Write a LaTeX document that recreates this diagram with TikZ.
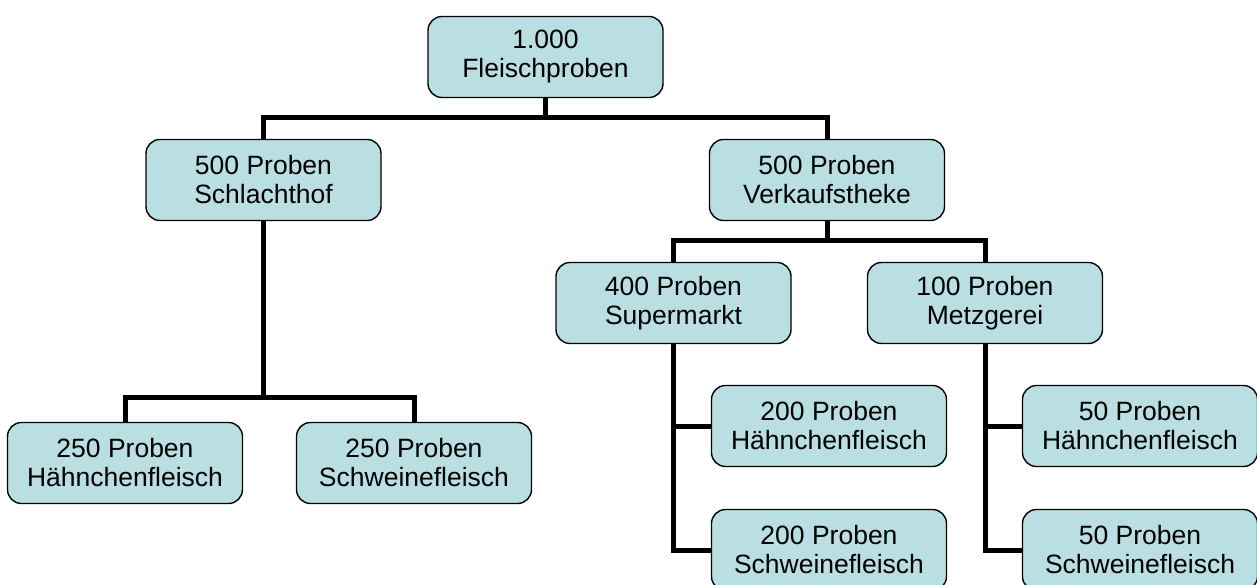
\documentclass[tikz,border=0pt]{standalone}
\usepackage{fontspec}
\setmainfont{Liberation Sans}
\definecolor{boxfill}{RGB}{185,223,227}
\tikzset{
  orgbox/.style={draw=black, line width=1.4pt, fill=boxfill, rounded corners=14pt,
    minimum width=235pt, minimum height=81pt, align=center, inner sep=0pt,
    font=\fontsize{26.5}{29}\selectfont},
  conn/.style={draw=black, line width=5pt}
}
\begin{document}
\begin{tikzpicture}[x=1pt,y=-1pt]
\useasboundingbox (0,0) rectangle (1257,585);
\fill[white] (0,0) rectangle (1257,585);
% nodes
\node[orgbox] (root) at (545.5,57) {1.000\\Fleischproben};
\node[orgbox] (sch) at (263.5,180) {500 Proben\\Schlachthof};
\node[orgbox] (ver) at (827,180) {500 Proben\\Verkaufstheke};
\node[orgbox] (lh) at (125,463) {250 Proben\\Hähnchenfleisch};
\node[orgbox] (ls) at (414,463) {250 Proben\\Schweinefleisch};
\node[orgbox] (sup) at (673.5,303) {400 Proben\\Supermarkt};
\node[orgbox] (met) at (985,303) {100 Proben\\Metzgerei};
\node[orgbox] (suph) at (829,426) {200 Proben\\Hähnchenfleisch};
\node[orgbox] (sups) at (829,550) {200 Proben\\Schweinefleisch};
\node[orgbox] (meth) at (1140,426) {50 Proben\\Hähnchenfleisch};
\node[orgbox] (mets) at (1140,550) {50 Proben\\Schweinefleisch};
% bar coordinates
\coordinate (bar1) at (0,118);
\coordinate (bar2) at (0,397);
\coordinate (bar3) at (0,241);
% connectors
\draw[conn] (root.south) -- (root.south |- bar1);
\draw[conn] (sch.north) |- (bar1 -| ver.north) -- (ver.north);
\draw[conn] (sch.south) -- (sch.south |- bar2);
\draw[conn] (lh.north) |- (bar2 -| ls.north) -- (ls.north);
\draw[conn] (ver.south) -- (ver.south |- bar3);
\draw[conn] (sup.north) |- (bar3 -| met.north) -- (met.north);
\draw[conn] (sup.south) |- (suph.west);
\draw[conn] (sup.south) |- (sups.west);
\draw[conn] (met.south) |- (meth.west);
\draw[conn] (met.south) |- (mets.west);
\end{tikzpicture}
\end{document}
